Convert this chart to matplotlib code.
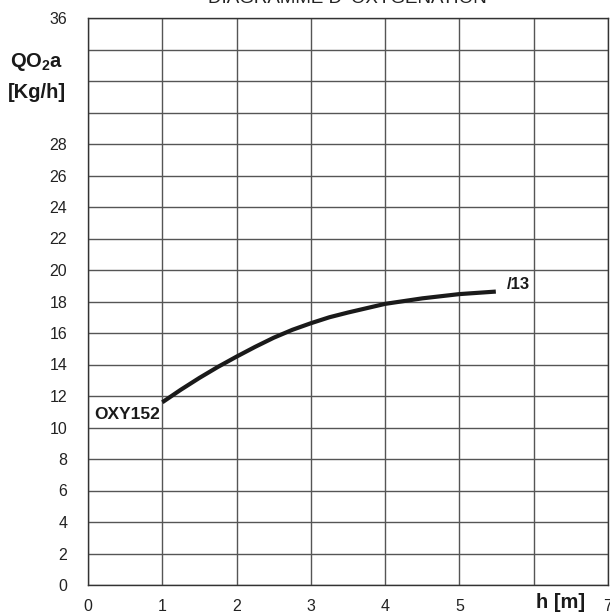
import matplotlib
matplotlib.use("Agg")
import matplotlib.pyplot as plt

plt.rcParams['font.family'] = ['Liberation Sans', 'DejaVu Sans']
plt.rcParams['mathtext.fontset'] = 'custom'
plt.rcParams['mathtext.bf'] = 'Liberation Sans:bold'
plt.rcParams['mathtext.rm'] = 'Liberation Sans'

title = "DIAGRAMME D' OXYGENATION"
h_vals = [1.0, 1.25, 1.5, 1.75, 2.0, 2.25, 2.5, 2.75, 3.0, 3.25, 3.5, 4.0, 4.5, 5.0, 5.49]
q_vals = [11.6, 12.4, 13.15, 13.85, 14.5, 15.12, 15.7, 16.2, 16.62, 17.0, 17.3, 17.85, 18.2, 18.47, 18.63]
curve_start_label = "OXY152"
curve_end_label = "/13"
x_ticks = [0, 1, 2, 3, 4, 5, 7]
x_grid = [0, 1, 2, 3, 4, 5, 6, 7]
y_ticks = [0, 2, 4, 6, 8, 10, 12, 14, 16, 18, 20, 22, 24, 26, 28, 36]
y_grid = list(range(0, 37, 2))

fig = plt.figure(figsize=(6.1, 6.15), dpi=100)
ax = fig.add_axes([88/610, 1-585/615, (608-88)/610, (585-18)/615])
ax.set_xlim(0, 7)
ax.set_ylim(0, 36)

for x in x_grid:
    ax.axvline(x, color='#555555', lw=1.0, zorder=1)
for y in y_grid:
    ax.axhline(y, color='#555555', lw=1.0, zorder=1)

ax.plot(h_vals, q_vals, color='#1a1a1a', lw=3.0, solid_capstyle='butt',
        solid_joinstyle='round', zorder=3)

ax.set_xticks(x_ticks)
ax.set_xticklabels([str(v) for v in x_ticks])
ax.set_yticks(y_ticks)
ax.set_yticklabels([str(v) for v in y_ticks])
ax.tick_params(axis='both', length=0, labelsize=11.5, colors='#222222')
ax.tick_params(axis='x', pad=10)
ax.tick_params(axis='y', pad=15)
for s in ax.spines.values():
    s.set_color('#333333')
    s.set_linewidth(1.0)

ax.text(h_vals[0] - 0.03, q_vals[0] - 0.75, curve_start_label, ha='right', va='center',
        fontsize=12.5, fontweight='bold', color='#1a1a1a', zorder=4)
ax.text(h_vals[-1] + 0.3, q_vals[-1] + 0.45, curve_end_label, ha='center', va='center',
        fontsize=12, fontweight='bold', color='#1a1a1a', zorder=4)

fig.text(10/610, 1-62/615, r'$\mathbf{QO_{2}a}$', ha='left', va='center', fontsize=14.5, color='#1a1a1a')
fig.text(8/610, 1-92/615, '[Kg/h]', ha='left', va='center', fontsize=14.5, fontweight='bold', color='#1a1a1a')
fig.text(536/610, 1-603/615, 'h [m]', ha='left', va='center', fontsize=14.5, fontweight='bold', color='#1a1a1a')

fig.text(347/610, 1-3/615, title, ha='center', va='baseline', fontsize=13.5, color='#222222')

fig.savefig('out.png', dpi=100)
